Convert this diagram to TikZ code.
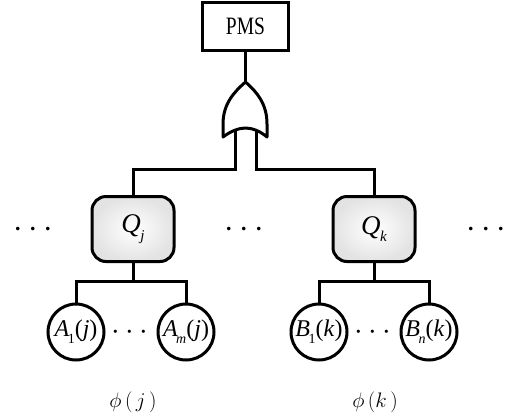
\documentclass[tikz,border=0pt]{standalone}
\usepackage{fix-cm}
\usepackage{fontspec}
\setmainfont{Liberation Serif}
\newcommand\evlabel[2]{\textit{#1}\kern-0.5pt\raisebox{-0.28em}{\fontsize{15}{16}\selectfont\textit{#2}}}
\newcommand\leaflab[3]{\textit{#1}\kern-1.5pt\raisebox{-0.3em}{\fontsize{14}{15}\selectfont #2}(\textit{#3})}
\tikzset{
  wire/.style={line width=3pt},
  topbox/.style={draw, line width=2.6pt, minimum width=86pt, minimum height=48pt, inner sep=0pt},
  qbox/.style={draw, line width=3pt, rounded corners=14pt, minimum width=82pt, minimum height=65pt,
               inner color=white, outer color=gray!22, inner sep=0pt},
  leaf/.style={draw, circle, line width=3pt, minimum size=56pt, inner sep=0pt},
  dotsbig/.style={font=\fontsize{34}{36}\selectfont, inner sep=0pt},
  dotsmall/.style={font=\fontsize{31}{33}\selectfont, inner sep=0pt},
  qlabel/.style={font=\fontsize{27}{30}\selectfont},
  leaflabel/.style={font=\fontsize{24}{26}\selectfont},
  setlabel/.style={font=\fontsize{21}{24}\selectfont, inner sep=0pt}
}
\begin{document}
\begin{tikzpicture}[x=1pt, y=-1pt]
\useasboundingbox (0,0) rectangle (516,416);

% top event
\node[topbox] (pms) at (245.5,26.5) {\fontsize{25}{28}\selectfont\scalebox{0.78}[1]{PMS}};

% OR gate pointing upward
\coordinate (gtip) at (245.5,82);
\coordinate (gin1) at (235,131);
\coordinate (gin2) at (256,131);
\draw[wire, line join=round] (223,137) -- (223,124)
  .. controls (223,104) and (234,92) .. (gtip)
  .. controls (257,92) and (267,104) .. (267,124) -- (267,137)
  .. controls (260,131) and (252,128) .. (245.5,128)
  .. controls (239,128) and (231,131) .. (223,137) -- cycle;

% intermediate events
\node[qbox, qlabel] (qj) at (133,229) {\evlabel{Q}{j}};
\node[qbox, qlabel] (qk) at (374,229) {\evlabel{Q}{k}};

% basic events
\node[leaf, leaflabel] (a1) at (76,332) {\leaflab{A}{1}{j}};
\node[leaf, leaflabel] (am) at (186,332) {\leaflab{A}{\textit{m}}{j}};
\node[leaf, leaflabel] (b1) at (319,332) {\leaflab{B}{1}{k}};
\node[leaf, leaflabel] (bn) at (429,332) {\leaflab{B}{\textit{n}}{k}};

% connectors
\draw[wire] (pms.south) -- (gtip);
\draw[wire] (gin1) -- ++(0,38) -| (qj.north);
\draw[wire] (gin2) -- ++(0,38) -| (qk.north);
\draw[wire] (qj.south) -- ++(0,18) coordinate (jbus);
\draw[wire] (a1.north) |- (jbus) -| (am.north);
\draw[wire] (qk.south) -- ++(0,18) coordinate (kbus);
\draw[wire] (b1.north) |- (kbus) -| (bn.north);

% ellipses
\node[dotsbig] (e1) at (33,230) {$\cdots$};
\node[dotsbig] (e2) at (244,230) {$\cdots$};
\node[dotsbig] (e3) at (486,230) {$\cdots$};
\node[dotsmall] (ej) at (130,333) {$\cdots$};
\node[dotsmall] (ek) at (373,333) {$\cdots$};

% group labels
\node[setlabel] (phij) at (133,402) {$\phi\,(\,j\,)$};
\node[setlabel] (phik) at (375,402) {$\phi\,(k\,)$};
\end{tikzpicture}
\end{document}
